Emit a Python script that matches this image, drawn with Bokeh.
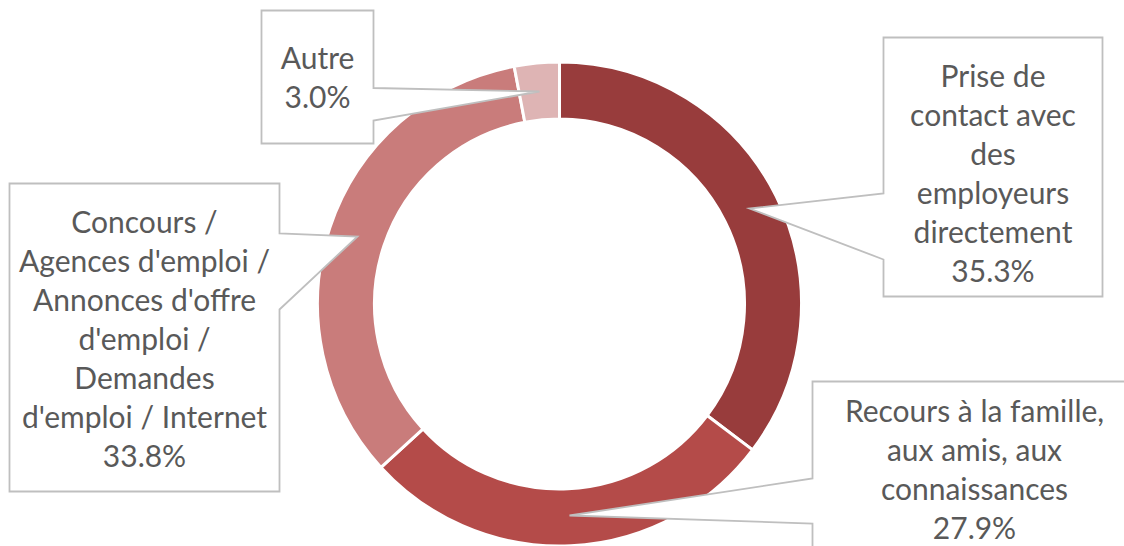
import math
from bokeh.plotting import figure
from bokeh.models import Range1d, ColumnDataSource
from bokeh.embed import file_html
from bokeh.resources import INLINE
from bokeh.core.properties import value

# ---------------- data ----------------
categories = [
    "Prise de contact avec des employeurs directement",
    "Recours à la famille, aux amis, aux connaissances",
    "Concours / Agences d'emploi / Annonces d'offre d'emploi / Demandes d'emploi / Internet",
    "Autre",
]
shares = [35.3, 27.9, 33.8, 3.0]
colors = ["#983C3C", "#B44B49", "#C97C7B", "#DEB4B4"]
label_lines = [
    ["Prise de", "contact avec", "des", "employeurs", "directement"],
    ["Recours à la famille,", "aux amis, aux", "connaissances"],
    ["Concours /", "Agences d'emploi /", "Annonces d'offre", "d'emploi /", "Demandes", "d'emploi / Internet"],
    ["Autre"],
]

# ---------------- layout (picture pixel coordinates) ----------------
W, H = 1124, 546
def Y(py):
    return H - py

CX, CY = 559, 303.5
R_OUT, R_IN = 242, 185

callouts = [
    dict(box=(883, 37, 1102, 296), side="left", y1=193, y2=259, tip=(749, 208), tx=992.5, ty=85),
    dict(box=(812, 381, 1140, 580), side="left", y1=478, y2=523, tip=(569, 515), tx=974, ty=420),
    dict(box=(9, 183, 279, 491), side="right", y1=233, y2=309, tip=(357, 236), tx=144, ty=231.7),
    dict(box=(261, 10, 373, 143), side="right", y1=87.5, y2=120, tip=(539, 91), tx=317, ty=67.3),
]
LINE_H = 39
BASE_SHIFT = -11
FONT = "Lato"
FONT_SIZE = "30px"
TEXT_COLOR = "#595959"
BORDER = "#BFBFBF"

p = figure(width=W, height=H, x_range=Range1d(0, W), y_range=Range1d(0, H),
           output_backend="svg", toolbar_location=None, min_border=0,
           background_fill_color="white", border_fill_color="white")
p.axis.visible = False
p.grid.visible = False
p.outline_line_color = None

# donut slices, clockwise from top
total = sum(shares)
starts, ends = [], []
cum = 0.0
for v in shares:
    a0 = math.pi / 2 - 2 * math.pi * cum / total
    cum += v
    a1 = math.pi / 2 - 2 * math.pi * cum / total
    starts.append(a1)
    ends.append(a0)

src = ColumnDataSource(dict(x=[CX] * len(shares), y=[Y(CY)] * len(shares),
                            start=starts, end=ends, color=colors, name=categories))
p.annular_wedge(x="x", y="y", inner_radius=R_IN, outer_radius=R_OUT,
                start_angle="start", end_angle="end", direction="anticlock",
                fill_color="color", line_color="white", line_width=3, source=src)

# callouts
xs, ys = [], []
for c in callouts:
    l, t, r, b = c["box"]
    tx, ty = c["tip"]
    if c["side"] == "right":
        pts = [(l, t), (r, t), (r, c["y1"]), (tx, ty), (r, c["y2"]), (r, b), (l, b)]
    else:
        pts = [(l, t), (r, t), (r, b), (l, b), (l, c["y2"]), (tx, ty), (l, c["y1"])]
    xs.append([q[0] for q in pts])
    ys.append([Y(q[1]) for q in pts])
p.patches(xs, ys, fill_color="white", line_color=BORDER, line_width=1.8, line_join="miter")

# label texts
txt_x, txt_y, txt = [], [], []
for c, lines, v in zip(callouts, label_lines, shares):
    all_lines = lines + [f"{v:.1f}%"]
    for k, s in enumerate(all_lines):
        txt_x.append(c["tx"])
        txt_y.append(Y(c["ty"] + BASE_SHIFT + k * LINE_H))
        txt.append(s)
p.text(x=txt_x, y=txt_y, text=txt, text_align="center", text_baseline="alphabetic",
       text_font=value(FONT), text_font_size=FONT_SIZE, text_color=TEXT_COLOR)

open("out.html", "w").write(file_html(p, INLINE))
